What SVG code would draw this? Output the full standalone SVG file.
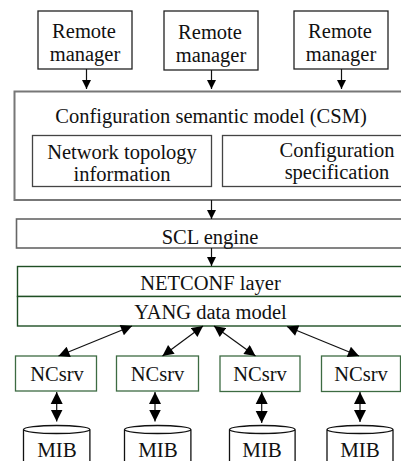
<svg xmlns="http://www.w3.org/2000/svg" width="401" height="461" viewBox="0 0 401 461" font-family="Liberation Serif">
<defs>
<marker id="ah" viewBox="0 0 10 10" refX="10" refY="5" markerWidth="9" markerHeight="10" markerUnits="userSpaceOnUse" orient="auto"><path d="M0,0L10,5L0,10z" fill="#000"/></marker>
<marker id="ah2" viewBox="0 0 10 10" refX="10" refY="5" markerWidth="12" markerHeight="11" markerUnits="userSpaceOnUse" orient="auto-start-reverse"><path d="M0,0L10,5L0,10z" fill="#000"/></marker>
<marker id="ah3" viewBox="0 0 10 10" refX="10" refY="5" markerWidth="12" markerHeight="13" markerUnits="userSpaceOnUse" orient="auto-start-reverse"><path d="M0,0L10,5L0,10z" fill="#000"/></marker>
</defs>
<rect width="401" height="461" fill="#fff"/>
<g fill="#fff" stroke="#222" stroke-width="1.3">
<g id="rm1"><rect x="38" y="11" width="94" height="58"/><text font-family="Liberation Serif" font-size="20.5" text-anchor="middle" style="font-family:'Liberation Serif',serif !important" fill="#111" stroke="none" x="84" y="38">Remote</text><text font-family="Liberation Serif" font-size="20.5" text-anchor="middle" style="font-family:'Liberation Serif',serif !important" fill="#111" stroke="none" x="85" y="61">manager</text></g>
<g id="rm2"><rect x="164" y="11" width="94" height="59"/><text font-family="Liberation Serif" font-size="20.5" text-anchor="middle" style="font-family:'Liberation Serif',serif !important" fill="#111" stroke="none" x="210" y="39">Remote</text><text font-family="Liberation Serif" font-size="20.5" text-anchor="middle" style="font-family:'Liberation Serif',serif !important" fill="#111" stroke="none" x="211" y="61.5">manager</text></g>
<g id="rm3"><rect x="294" y="11" width="94" height="58"/><text font-family="Liberation Serif" font-size="20.5" text-anchor="middle" style="font-family:'Liberation Serif',serif !important" fill="#111" stroke="none" x="340" y="38">Remote</text><text font-family="Liberation Serif" font-size="20.5" text-anchor="middle" style="font-family:'Liberation Serif',serif !important" fill="#111" stroke="none" x="341" y="60.5">manager</text></g>
</g>

<g id="csm"><rect fill="#fff" stroke="#777" stroke-width="2" x="14.5" y="91.5" width="400" height="108.5"/><text font-family="Liberation Serif" font-size="20.5" text-anchor="middle" style="font-family:'Liberation Serif',serif !important" fill="#111" x="211" y="123">Configuration semantic model (CSM)</text></g>
<g fill="#fff" stroke="#444" stroke-width="1.3">
<g id="topo"><rect x="32.5" y="135.5" width="179" height="51"/><text font-family="Liberation Serif" font-size="20.5" text-anchor="middle" style="font-family:'Liberation Serif',serif !important" fill="#111" stroke="none" x="122" y="159">Network topology</text><text font-family="Liberation Serif" font-size="20.5" text-anchor="middle" style="font-family:'Liberation Serif',serif !important" fill="#111" stroke="none" x="122" y="181">information</text></g>
<g id="spec"><rect x="222.5" y="135.5" width="200" height="51"/><text font-family="Liberation Serif" font-size="20.5" text-anchor="middle" style="font-family:'Liberation Serif',serif !important" fill="#111" stroke="none" x="337" y="157">Configuration</text><text font-family="Liberation Serif" font-size="20.5" text-anchor="middle" style="font-family:'Liberation Serif',serif !important" fill="#111" stroke="none" x="337" y="179">specification</text></g>
</g>

<g id="scl"><rect fill="#fff" stroke="#666" stroke-width="1.6" x="16.5" y="219" width="400" height="29"/><text font-family="Liberation Serif" font-size="20.5" text-anchor="middle" style="font-family:'Liberation Serif',serif !important" fill="#111" x="210" y="243.5">SCL engine</text></g>
<g fill="#fff" stroke="#1f4f24" stroke-width="1.4">
<g id="netconf"><rect x="17.5" y="266.5" width="400" height="30"/><text font-family="Liberation Serif" font-size="20.5" text-anchor="middle" style="font-family:'Liberation Serif',serif !important" fill="#111" stroke="none" x="210.5" y="290">NETCONF layer</text></g>
<g id="yang"><rect x="17.5" y="296.5" width="400" height="29.5"/><text font-family="Liberation Serif" font-size="20.5" text-anchor="middle" style="font-family:'Liberation Serif',serif !important" fill="#111" stroke="none" x="210.5" y="319">YANG data model</text></g>
</g>

<g fill="#fff" stroke="#3d6b42" stroke-width="1.3">
<g id="ncsrv1"><rect x="15.5" y="356" width="81" height="35"/><text font-family="Liberation Serif" font-size="20.5" text-anchor="middle" style="font-family:'Liberation Serif',serif !important" fill="#111" stroke="none" x="57" y="381">NCsrv</text></g>
<g id="ncsrv2"><rect x="116.5" y="356" width="82" height="35"/><text font-family="Liberation Serif" font-size="20.5" text-anchor="middle" style="font-family:'Liberation Serif',serif !important" fill="#111" stroke="none" x="157.5" y="381">NCsrv</text></g>
<g id="ncsrv3"><rect x="220" y="356" width="80" height="35.5"/><text font-family="Liberation Serif" font-size="20.5" text-anchor="middle" style="font-family:'Liberation Serif',serif !important" fill="#111" stroke="none" x="260" y="381">NCsrv</text></g>
<g id="ncsrv4"><rect x="321.5" y="356" width="79" height="35.5"/><text font-family="Liberation Serif" font-size="20.5" text-anchor="middle" style="font-family:'Liberation Serif',serif !important" fill="#111" stroke="none" x="361" y="381">NCsrv</text></g>
</g>

<g fill="#fff" stroke="#111" stroke-width="1.3">
<g id="mib1"><path d="M23.5,470V429.5A33.2,4 0 0 1 89.9,429.5V470M23.5,429.5A33.2,4 0 0 0 89.9,429.5"/><text font-family="Liberation Serif" font-size="21" text-anchor="middle" style="font-family:'Liberation Serif',serif !important" fill="#111" stroke="none" x="57" y="457">MIB</text></g>
<g id="mib2"><path d="M124.5,470V429.5A33.2,4 0 0 1 190.9,429.5V470M124.5,429.5A33.2,4 0 0 0 190.9,429.5"/><text font-family="Liberation Serif" font-size="21" text-anchor="middle" style="font-family:'Liberation Serif',serif !important" fill="#111" stroke="none" x="158" y="457">MIB</text></g>
<g id="mib3"><path d="M229.5,470V429.5A32.8,4 0 0 1 295.1,429.5V470M229.5,429.5A32.8,4 0 0 0 295.1,429.5"/><text font-family="Liberation Serif" font-size="21" text-anchor="middle" style="font-family:'Liberation Serif',serif !important" fill="#111" stroke="none" x="262" y="457">MIB</text></g>
<g id="mib4"><path d="M327,470V429.5A33,4 0 0 1 393,429.5V470M327,429.5A33,4 0 0 0 393,429.5"/><text font-family="Liberation Serif" font-size="21" text-anchor="middle" style="font-family:'Liberation Serif',serif !important" fill="#111" stroke="none" x="360" y="457">MIB</text></g>
</g>

<g id="connectors" stroke="#111" stroke-width="1.2" fill="none">
<line x1="86.5" y1="69" x2="86.5" y2="89" marker-end="url(#ah)"/>
<line x1="211.5" y1="70" x2="211.5" y2="89" marker-end="url(#ah)"/>
<line x1="341.5" y1="69" x2="341.5" y2="89" marker-end="url(#ah)"/>
<line x1="211.5" y1="200" x2="211.5" y2="219" marker-end="url(#ah)"/>
<line x1="211.5" y1="248" x2="211.5" y2="266" marker-end="url(#ah)"/>
<line x1="58.5" y1="356" x2="132" y2="326" marker-start="url(#ah2)" marker-end="url(#ah2)"/>
<line x1="162.5" y1="356" x2="203" y2="326" marker-start="url(#ah2)" marker-end="url(#ah2)"/>
<line x1="255.5" y1="356" x2="214" y2="326" marker-start="url(#ah2)" marker-end="url(#ah2)"/>
<line x1="359" y1="356" x2="287" y2="326.5" marker-start="url(#ah2)" marker-end="url(#ah2)"/>
<line x1="56.7" y1="392" x2="56.7" y2="421.5" marker-start="url(#ah3)" marker-end="url(#ah3)"/>
<line x1="155" y1="392" x2="155" y2="421.5" marker-start="url(#ah3)" marker-end="url(#ah3)"/>
<line x1="261.7" y1="392" x2="261.7" y2="423" marker-start="url(#ah3)" marker-end="url(#ah3)"/>
<line x1="360" y1="392" x2="360" y2="422" marker-start="url(#ah3)" marker-end="url(#ah3)"/>
</g>
</svg>
